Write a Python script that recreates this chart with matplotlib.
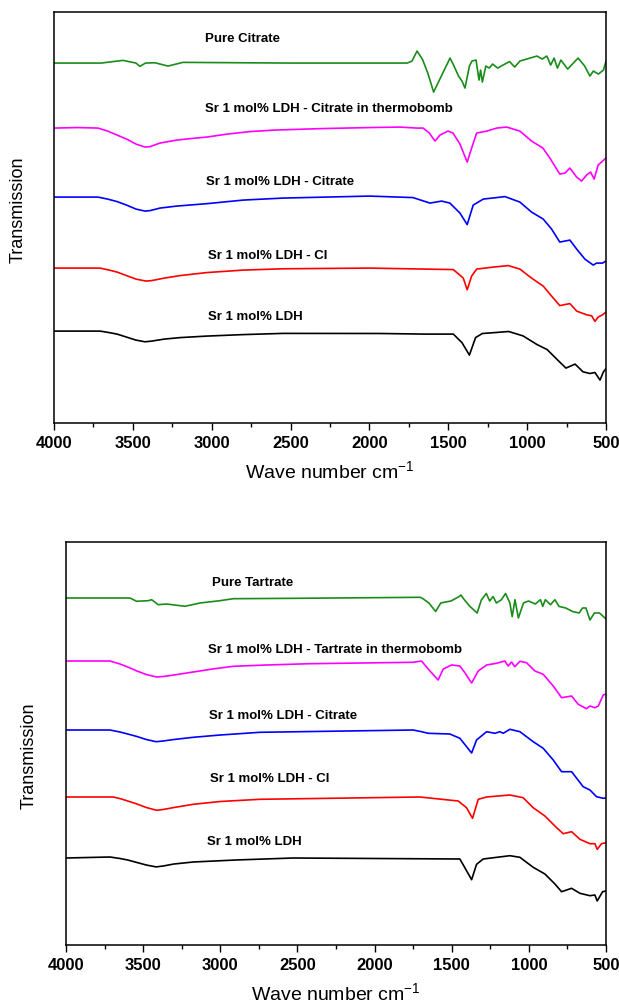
import matplotlib.pyplot as plt
from matplotlib.ticker import MultipleLocator

plt.rcParams['font.family'] = ['Liberation Sans', 'DejaVu Sans']
plt.rcParams['mathtext.default'] = 'regular'

# ---- top panel (citrate) : wave numbers and dip depth below each baseline (a.u.)
cit_pure_wn = [4000, 3700, 3563, 3480, 3455, 3420, 3360, 3277, 3182, 3000, 2500, 2000, 1760, 1730,
               1698, 1663, 1630, 1593, 1544, 1489, 1468, 1435, 1413, 1394, 1366, 1350, 1324, 1305,
               1295, 1284, 1262, 1240, 1219, 1187, 1153, 1111, 1079, 1046, 982, 938, 905, 875, 851,
               829, 808, 786, 743, 677, 635, 602, 580, 548, 516, 500]
cit_pure_dip = [0, 0, -2.7, 0, 3.3, 0, -0.3, 3, -0.7, -0.5, 0, 0, 0, -2,
                -12, -3.5, 10, 29, 13, -5, 1.5, 13, 18, 25, 3, -2, -3, 17,
                7, 19, 3, 5, 1, 5, 2, -1.5, 4, -2, -5, -7, -4, -7, 2,
                -5, 5, -3, 6, -5, 3, 13, 8, 11, 7, -2]

cit_thermo_wn = [4000, 3850, 3721, 3660, 3600, 3540, 3480, 3423, 3390, 3328, 3222, 3100, 3032, 2900,
                 2757, 2600, 2300, 2000, 1806, 1700, 1660, 1620, 1584, 1553, 1502, 1470, 1426, 1380,
                 1352, 1320, 1256, 1193, 1130, 1046, 972, 900, 856, 793, 760, 729, 686, 655, 623,
                 598, 575, 550, 522, 500]
cit_thermo_dip = [0, -0.5, 0, 3, 7, 11, 16, 19, 18.5, 15, 12, 10, 9, 6,
                  3.5, 2, 0.5, -0.5, -1, 0, 0, 5, 13, 7, 3, 5, 16, 34,
                  20, 5, 3, 0, -1, 3, 13, 20, 30, 46, 45, 40, 49, 53, 47,
                  44, 51, 37, 33, 30]

cit_ldh_cit_wn = [4000, 3721, 3660, 3600, 3540, 3480, 3423, 3390, 3328, 3222, 3032, 2800, 2548, 2000,
                  1724, 1616, 1542, 1490, 1426, 1380, 1342, 1278, 1193, 1141, 1046, 972, 898, 845,
                  793, 729, 686, 634, 581, 560, 522, 500]
cit_ldh_cit_dip = [0, 0, 2, 4.5, 8, 12, 14, 13.5, 11, 9, 6.6, 3, 1, -1,
                   0.5, 6, 4, 6, 16, 27.5, 8, 2, 0.5, -0.5, 5, 15, 22, 32,
                   45, 43, 52, 62, 68, 66, 66, 64]

cit_ldh_cl_wn = [4000, 3708, 3650, 3600, 3540, 3480, 3417, 3380, 3300, 3200, 3032, 2800, 2548, 2000,
                 1468, 1405, 1380, 1352, 1320, 1215, 1120, 1046, 972, 898, 845, 793, 729, 686, 623,
                 591, 570, 550, 522, 500]
cit_ldh_cl_dip = [0, 0, 2, 4, 7.5, 11, 13, 12.5, 10, 7.5, 4.5, 2, 0.7, 0,
                  1.5, 10, 21.7, 8, 1, -1, -2.5, 1, 10, 18, 28, 37.5, 35.5, 43, 46.7,
                  47.7, 53.3, 49, 46.7, 44]

cit_ldh_wn = [4000, 3708, 3650, 3600, 3540, 3480, 3423, 3380, 3300, 3200, 3032, 2800, 2548, 1933,
              1654, 1468, 1413, 1366, 1327, 1284, 1198, 1117, 1026, 938, 873, 808, 754, 696, 646,
              602, 570, 538, 516, 500]
cit_ldh_dip = [0, 0, 1.5, 3, 6, 9, 10.7, 10, 8, 6.5, 5, 3.5, 2.3, 2.4,
               3, 3, 11.6, 24, 6.5, 2.4, 1.4, 0.4, 4.8, 13.4, 18.5, 28.7, 37, 33, 40.7,
               42.4, 41.4, 49, 40.7, 37.5]

# ---- bottom panel (tartrate)
tar_pure_wn = [4000, 3585, 3542, 3467, 3445, 3402, 3348, 3229, 3132, 3002, 2959, 2916, 2500, 1706,
               1693, 1648, 1604, 1571, 1505, 1451, 1440, 1422, 1385, 1335, 1308, 1276, 1254, 1232,
               1210, 1178, 1151, 1123, 1108, 1090, 1068, 1035, 1002, 958, 925, 910, 893, 860, 831,
               805, 761, 717, 674, 652, 630, 604, 575, 542, 500]
tar_pure_dip = [0, 0, 3.3, 2.7, 1.7, 6.7, 6, 8.3, 5, 2.7, 1.7, 0.7, 0.3, -0.7,
                0, 5, 13.5, 5, 3, -1.5, -3, 1, 8, 15, 2, -4.5, 3, -1.5,
                5, 1.7, -4.5, 5, 18.6, 1.7, 20, 5, 3, 6, 1.7, 8.4, 1.7, 6.7, 1.7,
                8.4, 10, 13.5, 15, 10, 10, 22, 15, 15, 21]

tar_thermo_wn = [4000, 3715, 3650, 3600, 3540, 3480, 3412, 3370, 3300, 3175, 3050, 2916, 2700, 2419,
                 1750, 1696, 1641, 1588, 1555, 1501, 1447, 1415, 1371, 1328, 1274, 1210, 1156, 1134,
                 1112, 1091, 1058, 1015, 961, 907, 842, 788, 723, 680, 626, 604, 572, 550, 518, 500]
tar_thermo_dip = [0, 0, 3, 6, 10, 13.5, 16, 15.5, 14, 11, 8, 5.3, 4, 2.7,
                  1.3, 0, 10, 19, 8, 4, 5, 11.7, 22, 10, 4, 2.3, 0, 5,
                  1, 5.7, 0.3, 1.7, 10, 13.3, 25, 36.7, 35, 43.3, 47.7, 45, 46.7, 45, 34, 33]

tar_ldh_cit_wn = [4000, 3715, 3650, 3600, 3540, 3480, 3416, 3370, 3300, 3175, 3000, 2743, 1750, 1696,
                  1653, 1512, 1447, 1371, 1339, 1274, 1220, 1188, 1166, 1123, 1058, 972, 907, 842,
                  788, 723, 648, 604, 561, 518, 500]
tar_ldh_cit_dip = [0, 0, 2, 4, 6.5, 9.5, 11.7, 11, 9.5, 7.3, 5, 2.3, 0, 1.7,
                   3.3, 4, 8.3, 23, 10, 1.7, 3.3, 1.7, 3.3, -0.7, 1.7, 11.7, 18.3, 30,
                   41.7, 41.7, 56.7, 60, 66.7, 68.3, 68]

tar_ldh_cl_wn = [4000, 3693, 3640, 3600, 3540, 3480, 3412, 3370, 3300, 3175, 3000, 2743, 1706, 1458,
                 1404, 1365, 1328, 1274, 1123, 1037, 972, 896, 820, 777, 723, 669, 604, 572, 557,
                 529, 500]
tar_ldh_cl_dip = [0, 0, 2, 4, 7, 10.5, 13.3, 12.5, 10.5, 7.3, 4.5, 2.3, 0, 4,
                  10.7, 21.3, 2.3, 0, -2, 0.7, 10.7, 19, 30.7, 36.7, 34.7, 42.3, 46.7, 46.7, 52.3,
                  46.7, 45.7]

tar_ldh_wn = [4000, 3715, 3650, 3600, 3540, 3480, 3416, 3370, 3300, 3175, 2900, 2527, 1447, 1404,
              1371, 1339, 1296, 1123, 1058, 972, 896, 831, 788, 723, 669, 604, 572, 557, 522, 500]
tar_ldh_dip = [0, -1, 0.5, 2, 4.5, 7, 8.9, 8, 6, 4, 2, 0, 1, 12.7,
               21.7, 6.3, 1, -2.3, -0.7, 9.3, 16, 26, 33.7, 30.3, 35.3, 37.7, 37, 43, 33.7, 33]

colors = ['#1a8c1a', '#ff00ff', '#0000ff', '#ff0000', '#000000']

top_labels = ['Pure Citrate', 'Sr 1 mol% LDH - Citrate in thermobomb', 'Sr 1 mol% LDH - Citrate',
              'Sr 1 mol% LDH - Cl', 'Sr 1 mol% LDH']
top_offsets = [360, 295, 226, 155, 92]
top_label_x = [3043, 3043, 3036, 3025, 3025]
top_label_y = [384, 314, 241, 167, 106]

bot_labels = ['Pure Tartrate', 'Sr 1 mol% LDH - Tartrate in thermobomb', 'Sr 1 mol% LDH - Citrate',
              'Sr 1 mol% LDH - Cl', 'Sr 1 mol% LDH']
bot_offsets = [347, 284, 215, 148, 87]
bot_label_x = [3054, 3082, 3073, 3067, 3088]
bot_label_y = [362, 295, 229, 166, 103]

top_series = [(cit_pure_wn, cit_pure_dip), (cit_thermo_wn, cit_thermo_dip),
              (cit_ldh_cit_wn, cit_ldh_cit_dip), (cit_ldh_cl_wn, cit_ldh_cl_dip),
              (cit_ldh_wn, cit_ldh_dip)]
bot_series = [(tar_pure_wn, tar_pure_dip), (tar_thermo_wn, tar_thermo_dip),
              (tar_ldh_cit_wn, tar_ldh_cit_dip), (tar_ldh_cl_wn, tar_ldh_cl_dip),
              (tar_ldh_wn, tar_ldh_dip)]

fig = plt.figure(figsize=(6.19, 10.05), dpi=100)
ax1 = fig.add_axes([0.0872, 0.579, 0.8918, 0.409])
ax2 = fig.add_axes([0.1066, 0.0597, 0.8724, 0.401])


def draw_panel(ax, series, offsets, labels, lx, ly, ytop, ylab_x, ylab_y):
    for (wn, dip), off, c in zip(series, offsets, colors):
        ax.plot(wn, [off - d for d in dip], color=c, lw=1.2)
    for t, x, y in zip(labels, lx, ly):
        ax.text(x, y, t, fontsize=9.5, fontweight='bold', ha='left', va='center')
    ax.set_xlim(4000, 500)
    ax.set_ylim(0, ytop)
    ax.set_yticks([])
    ax.xaxis.set_major_locator(MultipleLocator(500))
    ax.xaxis.set_minor_locator(MultipleLocator(250))
    ax.tick_params(axis='x', which='major', direction='out', length=5, width=1,
                   labelsize=12, pad=4)
    ax.tick_params(axis='x', which='minor', direction='out', length=3, width=1)
    for lab in ax.get_xticklabels():
        lab.set_fontweight('bold')
    for s in ax.spines.values():
        s.set_linewidth(1.1)
    ax.set_xlabel('Wave number cm$^{-1}$', fontsize=14, labelpad=7)
    ax.set_ylabel('Transmission', fontsize=13)
    ax.yaxis.set_label_coords(ylab_x, ylab_y)


draw_panel(ax1, top_series, top_offsets, top_labels, top_label_x, top_label_y, 411, -0.05, 0.52)
draw_panel(ax2, bot_series, bot_offsets, bot_labels, bot_label_x, bot_label_y, 403, -0.053, 0.47)

fig.savefig('out.png', dpi=100)
